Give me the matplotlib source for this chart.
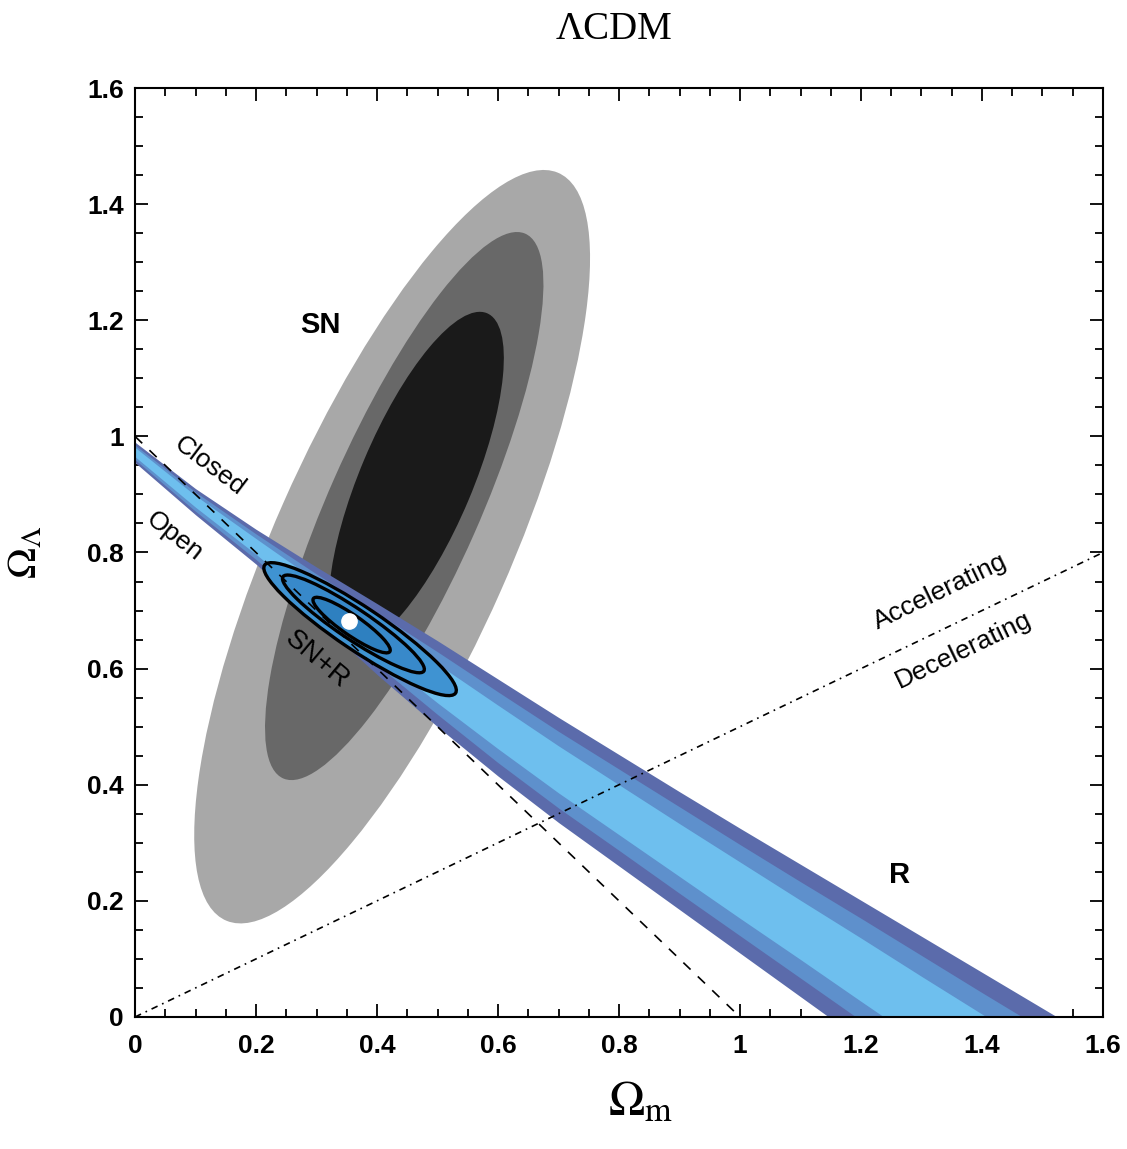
import matplotlib
matplotlib.use("Agg")
import matplotlib.pyplot as plt
from matplotlib.patches import Ellipse
from matplotlib.ticker import MultipleLocator, FuncFormatter

# --- SN confidence regions (outer -> inner), ellipses in (Omega_m, Omega_L)
sn_center = [(0.425, 0.81), (0.445, 0.88), (0.465, 0.925)]
sn_width = [1.40, 1.02, 0.62]
sn_height = [0.39, 0.25, 0.186]
sn_angle = [67, 67, 68]

# --- R (CMB shift) band, edges
om_grid = [0.0, 0.1, 0.2, 0.3, 0.4, 0.5, 0.6, 0.7, 0.8, 0.9, 1.0, 1.1, 1.2, 1.3, 1.4, 1.5, 1.6]
r_up3 = [0.99, 0.91, 0.84, 0.775, 0.712, 0.648, 0.582, 0.516, 0.452, 0.388, 0.325, 0.263, 0.201, 0.139, 0.077, 0.015, -0.047]
r_up2 = [0.985, 0.904, 0.832, 0.763, 0.696, 0.629, 0.560, 0.492, 0.427, 0.362, 0.297, 0.233, 0.170, 0.106, 0.042, -0.021, -0.085]
r_up1 = [0.981, 0.898, 0.824, 0.751, 0.679, 0.608, 0.537, 0.467, 0.400, 0.333, 0.267, 0.201, 0.136, 0.070, 0.005, -0.061, -0.126]
r_lo1 = [0.965, 0.878, 0.797, 0.710, 0.624, 0.541, 0.462, 0.386, 0.314, 0.242, 0.170, 0.099, 0.027, -0.044, -0.115, -0.187, -0.258]
r_lo2 = [0.960, 0.871, 0.788, 0.698, 0.607, 0.521, 0.438, 0.360, 0.287, 0.213, 0.140, 0.067, -0.006, -0.079, -0.153, -0.226, -0.299]
r_lo3 = [0.955, 0.865, 0.78, 0.685, 0.59, 0.50, 0.415, 0.335, 0.26, 0.185, 0.11, 0.035, -0.04, -0.115, -0.19, -0.265, -0.34]

# --- SN+R combined regions (outer -> inner)
snr_center = [(0.372, 0.668), (0.361, 0.677), (0.358, 0.675)]
snr_width = [0.385, 0.284, 0.156]
snr_height = [0.074, 0.052, 0.034]
snr_angle = [-35, -35, -36]
best_fit = (0.354, 0.682)

# --- reference lines
flat_x = [0.0, 1.0]
flat_y = [1.0, 0.0]
acc_x = [0.0, 1.6]
acc_y = [0.0, 0.8]

grey_colors = ['#a8a8a8', '#686868', '#1a1a1a']
band_colors = ['#5b6bab', '#5e90cc', '#6ebfee']
snr_colors = ['#3f93d2', '#3889ca', '#2e80c0']

plt.rcParams['font.family'] = ['Liberation Sans', 'DejaVu Sans']
plt.rcParams['mathtext.fontset'] = 'stix'

fig = plt.figure(figsize=(11.27, 11.49), dpi=100)
ax = fig.add_axes([0.1198, 0.1149, 0.8589, 0.8085])

# SN ellipses
for c, w, h, a, col in zip(sn_center, sn_width, sn_height, sn_angle, grey_colors):
    ax.add_patch(Ellipse(c, w, h, angle=a, facecolor=col, edgecolor='none', zorder=1))

# R band
ax.fill_between(om_grid, r_lo3, r_up3, color=band_colors[0], lw=0, zorder=2)
ax.fill_between(om_grid, r_lo2, r_up2, color=band_colors[1], lw=0, zorder=2)
ax.fill_between(om_grid, r_lo1, r_up1, color=band_colors[2], lw=0, zorder=2)

# SN+R contours
for c, w, h, a, col in zip(snr_center, snr_width, snr_height, snr_angle, snr_colors):
    ax.add_patch(Ellipse(c, w, h, angle=a, facecolor=col, edgecolor='black', lw=2.4, zorder=3))
ax.plot(*best_fit, 'o', color='white', markersize=11, zorder=5)

# flat universe and acceleration lines
ax.plot(flat_x, flat_y, color='black', lw=1.2, dashes=(6, 6), zorder=4)
ax.plot(acc_x, acc_y, color='black', lw=1.2, dashes=(4, 3, 1, 3), zorder=4)

# labels inside the plot
ax.text(0.306, 1.192, 'SN', fontsize=21, fontweight='bold', ha='center', va='center', zorder=6)
ax.text(1.264, 0.245, 'R', fontsize=21, fontweight='bold', ha='center', va='center', zorder=6)
ax.text(0.300, 0.615, 'SN+R', fontsize=20, rotation=-40, ha='center', va='center',
        rotation_mode='anchor', zorder=6)
ax.text(0.124, 0.948, 'Closed', fontsize=19, rotation=-37, ha='center', va='center',
        rotation_mode='anchor', zorder=6)
ax.text(0.066, 0.827, 'Open', fontsize=19, rotation=-38, ha='center', va='center',
        rotation_mode='anchor', zorder=6)
ax.text(1.331, 0.733, 'Accelerating', fontsize=19, rotation=25.7, ha='center', va='center',
        rotation_mode='anchor', zorder=6)
ax.text(1.369, 0.632, 'Decelerating', fontsize=19, rotation=25.7, ha='center', va='center',
        rotation_mode='anchor', zorder=6)

ax.set_xlim(0, 1.6)
ax.set_ylim(0, 1.6)

fmt = FuncFormatter(lambda v, p: f'{v:g}')
for axis in (ax.xaxis, ax.yaxis):
    axis.set_major_locator(MultipleLocator(0.2))
    axis.set_minor_locator(MultipleLocator(0.05))
    axis.set_major_formatter(fmt)

ax.tick_params(which='both', direction='in', top=True, right=True, width=1.3)
ax.tick_params(which='major', length=9.5)
ax.tick_params(which='minor', length=6)
ax.tick_params(axis='x', pad=12)
ax.tick_params(axis='y', pad=8)
for lab in ax.get_xticklabels() + ax.get_yticklabels():
    lab.set_fontsize(19)
    lab.set_fontweight('bold')
for s in ax.spines.values():
    s.set_linewidth(1.5)

ax.set_xlabel(r'$\Omega_{\rm m}$', fontsize=35)
ax.xaxis.set_label_coords(0.522, -0.068)
ax.set_ylabel(r'$\Omega_\Lambda$', fontsize=30, labelpad=30)
fig.text(0.545, 0.974, 'ΛCDM', fontsize=28, family='Liberation Serif', ha='center', va='center')

fig.savefig('out.png', dpi=100)
